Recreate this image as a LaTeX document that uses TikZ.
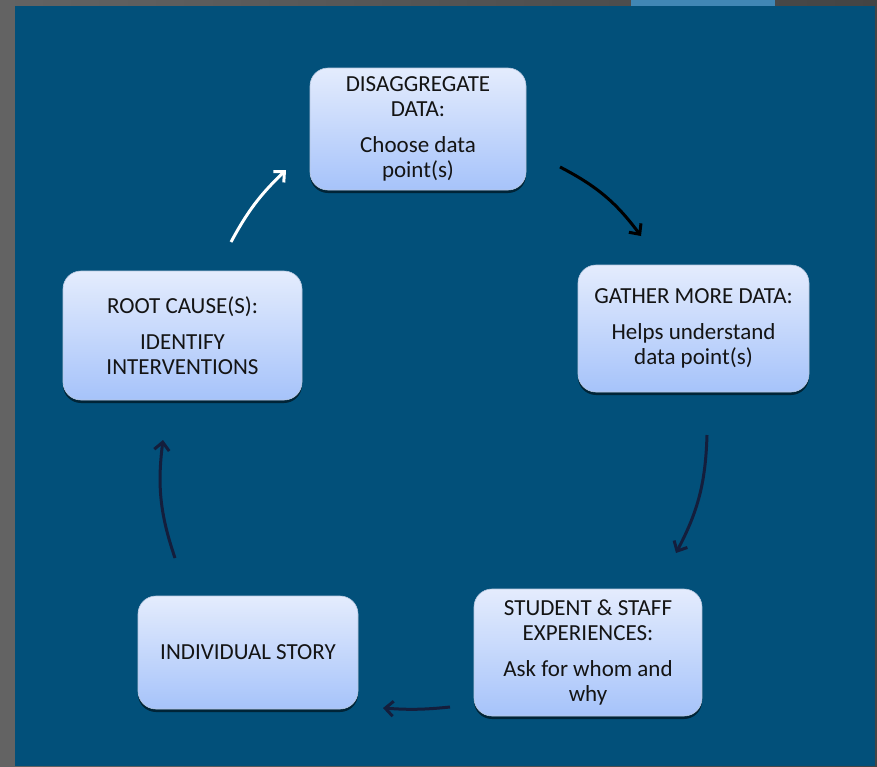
\documentclass[tikz,border=0pt]{standalone}
\usepackage{fontspec}
\setmainfont{Carlito}
\usetikzlibrary{arrows.meta,shadows}
\definecolor{panel}{HTML}{02507A}
\definecolor{tab}{HTML}{4187B5}
\definecolor{grayL}{HTML}{636363}
\definecolor{grayR}{HTML}{444444}
\definecolor{boxtop}{HTML}{E4ECFD}
\definecolor{boxbot}{HTML}{A6C3FA}
\definecolor{boxedge}{HTML}{B8C8E0}
\definecolor{navy}{HTML}{141E3C}
\definecolor{txt}{HTML}{141414}
\begin{document}
\begin{tikzpicture}[x=1pt,y=-1pt,
  box/.style={rounded corners=18pt, draw=boxedge, line width=0.6pt,
    top color=boxtop, bottom color=boxbot, align=center,
    font=\fontsize{23}{25}\selectfont, text=txt, inner sep=0pt,
    drop shadow={shadow xshift=0pt, shadow yshift=-3pt, opacity=0.55, fill=black}},
  conn/.style={line width=3pt, -{Straight Barb[length=8pt,width=15pt]}, bend left=13}]
\useasboundingbox (0,0) rectangle (877,766);
\shade[left color=grayL, right color=grayR] (0,0) rectangle (877,766);
\fill[tab] (631,0) rectangle (775,6);
\fill[panel] (15,6) rectangle (875,766);

\node[box, minimum width=216pt, minimum height=122pt] (dis) at (418,129)
  {DISAGGREGATE\\DATA:\\[11pt]Choose data\\point(s)};
\node[box, minimum width=231pt, minimum height=127pt] (gat) at (693.5,328.5)
  {GATHER MORE DATA:\\[11pt]Helps understand\\data point(s)};
\node[box, minimum width=228pt, minimum height=127pt] (stu) at (588,652.5)
  {STUDENT \& STAFF\\EXPERIENCES:\\[11pt]Ask for whom and\\why};
\node[box, minimum width=220pt, minimum height=113pt] (ind) at (248,652.5)
  {INDIVIDUAL STORY};
\node[box, minimum width=239pt, minimum height=129pt] (roo) at (182.5,335.5)
  {ROOT CAUSE(S):\\[11pt]IDENTIFY\\INTERVENTIONS};

\coordinate (a1s) at (560,167); \coordinate (a1e) at (641,236);
\coordinate (a2s) at (707,435); \coordinate (a2e) at (676,553);
\coordinate (a3s) at (450,707); \coordinate (a3e) at (383,708);
\coordinate (a4s) at (175,558); \coordinate (a4e) at (163,440);
\coordinate (a5s) at (231,242); \coordinate (a5e) at (286,170);

\draw[conn, black] (a1s) to (a1e);
\draw[conn, navy] (a2s) to (a2e);
\draw[conn, navy, bend left=5] (a3s) to (a3e);
\draw[conn, navy] (a4s) to (a4e);
\draw[conn, white, bend left=9] (a5s) to (a5e);
\end{tikzpicture}
\end{document}
